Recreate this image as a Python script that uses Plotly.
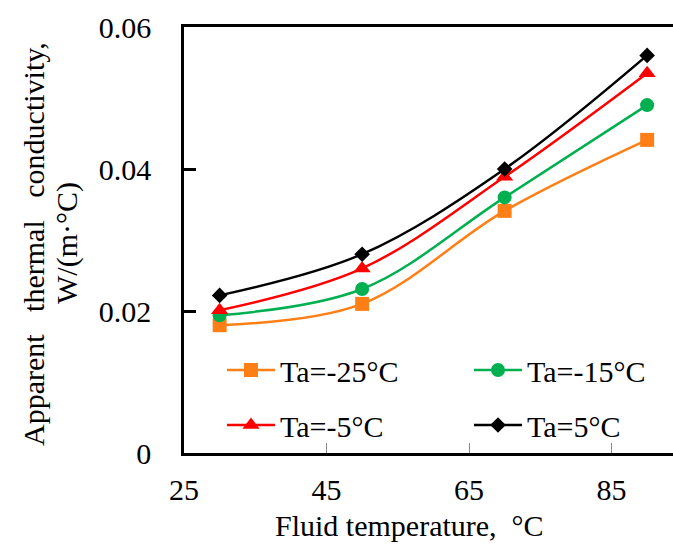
import plotly.graph_objects as go

fluid_temp = [30, 50, 70, 90]
series_names = ["Ta=-25°C", "Ta=-15°C", "Ta=-5°C", "Ta=5°C"]
k_m25 = [0.0180, 0.0210, 0.0341, 0.0441]
k_m15 = [0.0194, 0.0231, 0.0360, 0.0490]
k_m5 = [0.0201, 0.0260, 0.0389, 0.0535]
k_p5 = [0.0222, 0.0280, 0.0400, 0.0560]
x_ticks = [25, 45, 65, 85]
y_ticks = [0, 0.02, 0.04, 0.06]
y_tick_labels = ["0", "0.02", "0.04", "0.06"]

FONT = "Liberation Serif"
colors = ["#FF7F17", "#00B050", "#FF0000", "#000000"]
symbols = ["square", "circle", "triangle-up", "diamond"]
sizes = [14, 14, 15, 12]
legend_ids = ["legend", "legend2", "legend3", "legend4"]
values = [k_m25, k_m15, k_m5, k_p5]

W, H = 673, 549
L, T, B, R = 184, 27, 96, 0
pw = W - L - R
ph = H - T - B
xmax = 25 + pw / 7.125

fig = go.Figure()
for name, vals, c, s, sz, lg in zip(series_names, values, colors, symbols, sizes, legend_ids):
    fig.add_trace(go.Scatter(
        x=fluid_temp, y=vals, name=name, mode="lines+markers",
        line=dict(color=c, width=2.5, shape="spline"),
        marker=dict(color=c, symbol=s, size=sz, line=dict(width=0)),
        legend=lg, showlegend=True,
    ))

# legend placement (pixel positions of symbol start / row centre)
leg_pos = [(222, 370), (469, 370), (222, 425), (469, 425)]
legend_layouts = {}
for lg, (px, py) in zip(legend_ids, leg_pos):
    legend_layouts[lg] = dict(
        orientation="h", xanchor="left", yanchor="middle",
        x=(px - L) / pw, y=(453 - py) / ph,
        itemwidth=48, font=dict(family=FONT, size=30, color="black"),
        bgcolor="rgba(0,0,0,0)", borderwidth=0,
    )

fig.update_layout(
    width=W, height=H,
    margin=dict(l=L, r=R, t=T, b=B),
    paper_bgcolor="white", plot_bgcolor="white",
    showlegend=True,
    font=dict(family=FONT, size=30, color="black"),
    xaxis=dict(
        range=[25, xmax], tickvals=x_ticks, showgrid=False, zeroline=False,
        showline=True, linecolor="black", linewidth=2.5, mirror=True,
        ticks="inside", ticklen=10, tickwidth=1, tickcolor="#888888",
        ticklabelstandoff=8,
        tickfont=dict(family=FONT, size=30, color="black"),
    ),
    yaxis=dict(
        range=[0, 0.06], tickvals=y_ticks, ticktext=y_tick_labels,
        showgrid=False, zeroline=False,
        showline=True, linecolor="black", linewidth=2.5,
        ticks="inside", ticklen=12, tickwidth=2.5, tickcolor="black",
        ticklabelstandoff=24,
        tickfont=dict(family=FONT, size=30, color="black"),
    ),
    annotations=[
        dict(text="Fluid temperature,  °C", xref="paper", yref="paper",
             x=(409 - L) / pw, y=(453 - 525) / ph, xanchor="center", yanchor="middle",
             showarrow=False, font=dict(family=FONT, size=30, color="black")),
        dict(text="Apparent\u00a0\u00a0 thermal\u00a0\u00a0 conductivity,", xref="paper", yref="paper",
             x=(33 - L) / pw, y=(453 - 244) / ph, xanchor="center", yanchor="middle",
             textangle=-90, showarrow=False, font=dict(family=FONT, size=30, color="black")),
        dict(text="W/(m·°C)", xref="paper", yref="paper",
             x=(67 - L) / pw, y=(453 - 243) / ph, xanchor="center", yanchor="middle",
             textangle=-90, showarrow=False, font=dict(family=FONT, size=30, color="black")),
    ],
    **legend_layouts,
)

fig.write_html("out.html")
